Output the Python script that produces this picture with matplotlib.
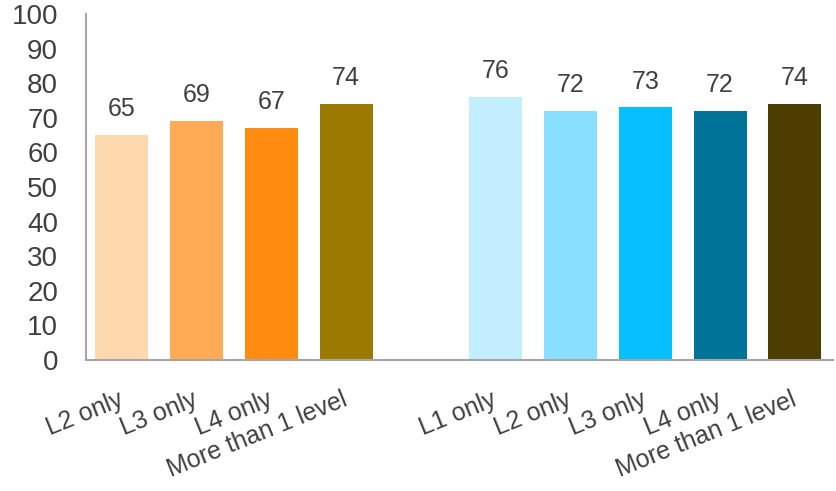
import matplotlib
matplotlib.use('agg')
import matplotlib.pyplot as plt
import numpy as np

plt.rcParams['font.family'] = ['Liberation Sans', 'DejaVu Sans']

# two groups of bars, separated by an empty slot
categories = ['L2 only', 'L3 only', 'L4 only', 'More than 1 level',
              'L1 only', 'L2 only', 'L3 only', 'L4 only', 'More than 1 level']
values = [65, 69, 67, 74, 76, 72, 73, 72, 74]
positions = [0, 1, 2, 3, 5, 6, 7, 8, 9]
colors = ['#FFD9AE', '#FFAB55', '#FF8C10', '#9C7900',
          '#C3EEFF', '#88DFFF', '#05BFFF', '#007399', '#4D3D00']

text_color = '#404040'

fig = plt.figure(figsize=(8.37, 4.91), dpi=100)
ax = fig.add_axes([0.1027, 0.2668, 0.8925, 0.7047])

bars = ax.bar(positions, values, width=0.71, color=colors)

for rect, v in zip(bars, values):
    ax.annotate(str(v), (rect.get_x() + rect.get_width() / 2, rect.get_height()),
                xytext=(0, 10), textcoords='offset points',
                ha='center', va='bottom', fontsize=18, color=text_color)

ax.set_xlim(-0.48, 9.51)
ax.set_ylim(0, 100)
ax.set_yticks(np.arange(0, 101, 10))
ax.tick_params(axis='y', length=0, pad=20, labelsize=20, labelcolor=text_color)
ax.set_xticks(positions)
ax.set_xticklabels(categories, rotation=22, ha='right', va='center',
                   rotation_mode='anchor', fontsize=18, color=text_color)
ax.tick_params(axis='x', length=0, pad=28)

for side in ['top', 'right']:
    ax.spines[side].set_visible(False)
for side in ['left', 'bottom']:
    ax.spines[side].set_color('#A6A6A6')
    ax.spines[side].set_linewidth(1.5)

fig.savefig('out.png', dpi=100)
